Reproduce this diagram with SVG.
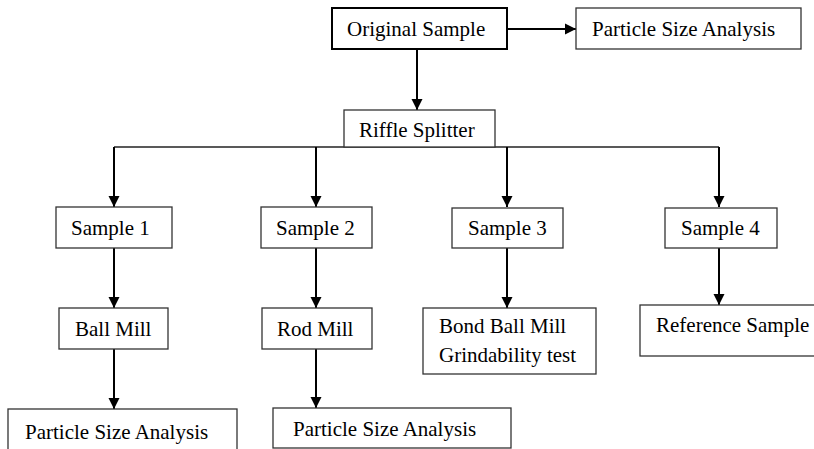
<svg xmlns="http://www.w3.org/2000/svg" width="814" height="449" viewBox="0 0 814 449">
<style>
.box{fill:#fff;stroke:#333;stroke-width:1.3}
.thick{fill:#fff;stroke:#000;stroke-width:2}
.t{font-family:"Liberation Serif","Times New Roman",serif;font-size:21px;fill:#000}
.c{stroke:#000;stroke-width:2;fill:none}
.b{stroke:#222;stroke-width:1.3;fill:none}
</style>
<defs>
<marker id="ah" markerUnits="userSpaceOnUse" markerWidth="12" markerHeight="12" viewBox="0 0 12 12" refX="11" refY="6" orient="auto">
<path d="M0,0.5 L11,6 L0,11.5 Z" fill="#000"/>
</marker>
</defs>
<g id="connectors">
<line class="c" x1="507" y1="29" x2="576" y2="29" marker-end="url(#ah)"/>
<line class="c" x1="417" y1="49" x2="417" y2="110" marker-end="url(#ah)"/>
<line class="b" x1="114" y1="147" x2="719" y2="147"/>
<line class="c" x1="114" y1="147" x2="114" y2="207" marker-end="url(#ah)"/>
<line class="c" x1="316" y1="147" x2="316" y2="207" marker-end="url(#ah)"/>
<line class="c" x1="507" y1="147" x2="507" y2="207" marker-end="url(#ah)"/>
<line class="c" x1="719" y1="147" x2="719" y2="207" marker-end="url(#ah)"/>
<line class="c" x1="114" y1="248" x2="114" y2="308" marker-end="url(#ah)"/>
<line class="c" x1="316" y1="248" x2="316" y2="308" marker-end="url(#ah)"/>
<line class="c" x1="507" y1="248" x2="507" y2="308" marker-end="url(#ah)"/>
<line class="c" x1="719" y1="248" x2="719" y2="305" marker-end="url(#ah)"/>
<line class="c" x1="114" y1="349" x2="114" y2="409" marker-end="url(#ah)"/>
<line class="c" x1="316" y1="349" x2="316" y2="408" marker-end="url(#ah)"/>
</g>
<g id="original-sample">
<rect class="thick" x="332" y="8" width="175" height="41"/>
<text class="t" x="347" y="36">Original Sample</text>
</g>
<g id="psa-top">
<rect class="box" x="576" y="8" width="225" height="41"/>
<text class="t" x="592" y="36">Particle Size Analysis</text>
</g>
<g id="riffle-splitter">
<rect class="box" x="344" y="110" width="151" height="37"/>
<text class="t" x="359" y="137">Riffle Splitter</text>
</g>
<g id="sample-1">
<rect class="box" x="56" y="207" width="116" height="41"/>
<text class="t" x="71" y="235">Sample 1</text>
</g>
<g id="sample-2">
<rect class="box" x="261" y="207" width="111" height="41"/>
<text class="t" x="276" y="235">Sample 2</text>
</g>
<g id="sample-3">
<rect class="box" x="452" y="208" width="111" height="40"/>
<text class="t" x="468" y="235">Sample 3</text>
</g>
<g id="sample-4">
<rect class="box" x="665" y="208" width="112" height="40"/>
<text class="t" x="681" y="235">Sample 4</text>
</g>
<g id="ball-mill">
<rect class="box" x="59" y="308" width="109" height="41"/>
<text class="t" x="75" y="336">Ball Mill</text>
</g>
<g id="rod-mill">
<rect class="box" x="262" y="308" width="110" height="41"/>
<text class="t" x="277" y="336">Rod Mill</text>
</g>
<g id="bond-ball-mill">
<rect class="box" x="423" y="308" width="173" height="66"/>
<text class="t" x="439" y="333">Bond Ball Mill</text>
<text class="t" x="439" y="362">Grindability test</text>
</g>
<g id="reference-sample">
<rect class="box" x="640" y="305" width="190" height="51"/>
<text class="t" x="656" y="332">Reference Sample</text>
</g>
<g id="psa-ball">
<rect class="box" x="8" y="409" width="229" height="50"/>
<text class="t" x="25" y="439">Particle Size Analysis</text>
</g>
<g id="psa-rod">
<rect class="box" x="273" y="408" width="238" height="40"/>
<text class="t" x="293" y="436">Particle Size Analysis</text>
</g>
</svg>
